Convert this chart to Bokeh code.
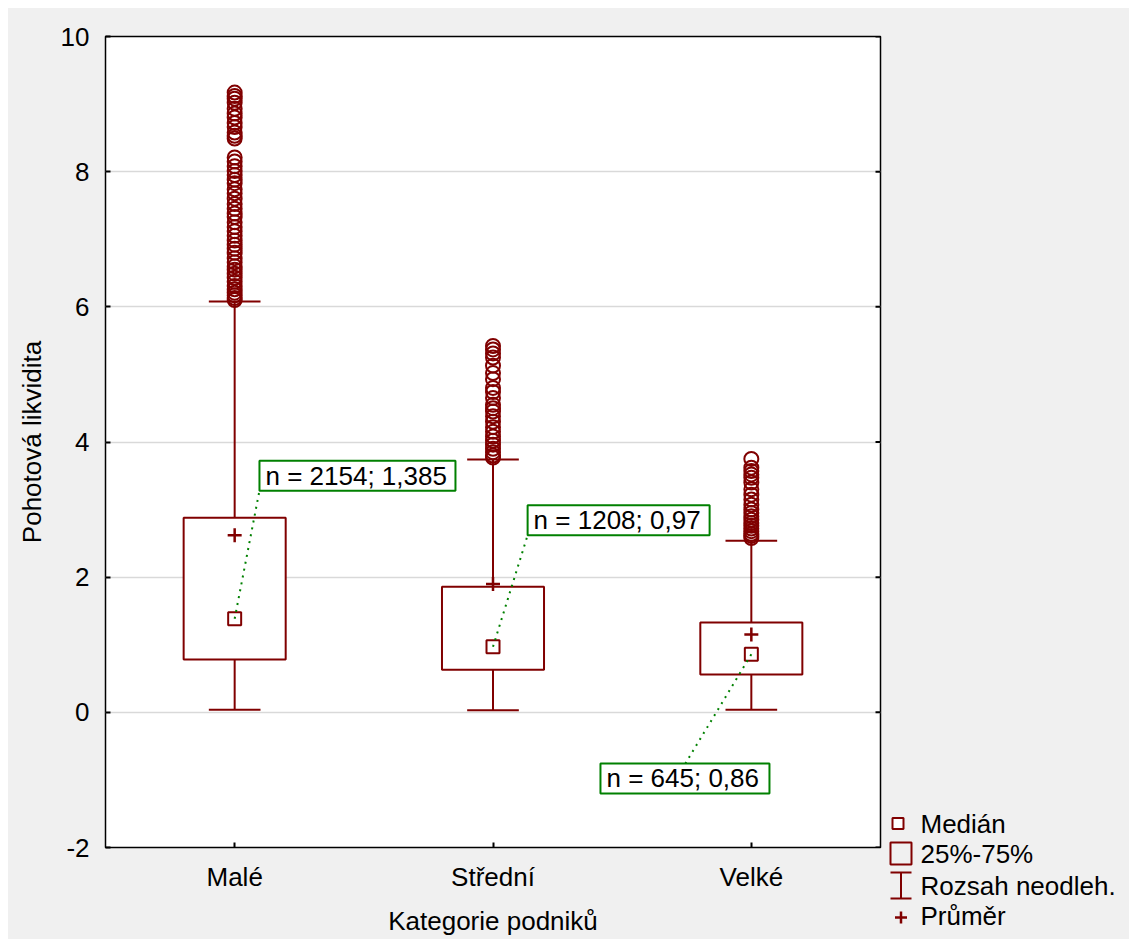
from bokeh.plotting import figure
from bokeh.layouts import row
from bokeh.models import Range1d, FixedTicker, Label
from bokeh.embed import file_html
from bokeh.resources import INLINE
from bokeh.core.properties import value

# ---------------- data ----------------
categories = ["Malé", "Střední", "Velké"]
counts = [2154, 1208, 645]
medians = [1.385, 0.97, 0.86]
q1 = [0.78, 0.63, 0.56]
q3 = [2.88, 1.86, 1.33]
means = [2.62, 1.90, 1.15]
whisker_low = [0.04, 0.03, 0.04]
whisker_high = [6.08, 3.74, 2.54]

outliers_male = [9.17, 9.12, 9.08, 9.02, 8.93, 8.86, 8.80, 8.72, 8.66, 8.58, 8.53, 8.49,
                 8.21, 8.15, 8.08, 8.01, 7.95, 7.88, 7.83, 7.74, 7.68, 7.60, 7.52, 7.45,
                 7.38, 7.33, 7.25, 7.18, 7.12, 7.05, 6.98, 6.92, 6.86, 6.80, 6.72, 6.66,
                 6.60, 6.55, 6.49, 6.43, 6.37, 6.31, 6.26, 6.21, 6.17, 6.13, 6.10]
outliers_stredni = [5.42, 5.37, 5.31, 5.25, 5.13, 5.02, 4.93, 4.80, 4.74, 4.65, 4.55, 4.50,
                    4.45, 4.38, 4.30, 4.22, 4.15, 4.08, 4.02, 3.96, 3.90, 3.85, 3.80, 3.77]
outliers_velke = [3.75, 3.62, 3.57, 3.52, 3.47, 3.40, 3.30, 3.22, 3.15, 3.07, 3.00, 2.95,
                  2.90, 2.85, 2.80, 2.76, 2.72, 2.68, 2.64, 2.61, 2.58]
outliers = [outliers_male, outliers_stredni, outliers_velke]

y_ticks = [-2, 0, 2, 4, 6, 8, 10]
legend_labels = ["Medián", "25%-75%", "Rozsah neodleh.", "Průměr"]

# ---------------- styling / layout ----------------
MAROON = "#800000"
GREEN = "#008000"
GRAY = "#f0f0f0"
FONT = "Liberation Sans"
FS = "26px"

FRAME_L, FRAME_T = 97, 28
FRAME_W, FRAME_H = 775, 811
FIG_H = 931
MAIN_W = FRAME_L + FRAME_W + 8
LEG_W = 1121 - MAIN_W
X0, X1 = 0.5, 3.5
Y0, Y1 = -2, 10
PXX = FRAME_W / (X1 - X0)
PXY = FRAME_H / (Y1 - Y0)

xs = [i + 1 for i in range(len(categories))]
box_half = 0.1975
cap_half = 0.10

p = figure(width=MAIN_W, height=FIG_H, x_range=Range1d(X0, X1), y_range=Range1d(Y0, Y1),
           output_backend="svg", toolbar_location=None,
           min_border_left=FRAME_L, min_border_right=8, min_border_top=FRAME_T,
           min_border_bottom=FIG_H - FRAME_T - FRAME_H,
           background_fill_color="white", border_fill_color=GRAY,
           outline_line_color="black", outline_line_width=1.5)

# axes
p.xaxis.ticker = FixedTicker(ticks=xs)
p.xaxis.major_label_overrides = {x: c for x, c in zip(xs, categories)}
p.xaxis.axis_label = "Kategorie podniků"
p.yaxis.ticker = FixedTicker(ticks=y_ticks)
p.yaxis.major_label_overrides = {t: str(t) for t in y_ticks}
p.yaxis.axis_label = "Pohotová likvidita"
for ax in (p.xaxis[0], p.yaxis[0]):
    ax.axis_line_color = None
    ax.major_tick_in = 5
    ax.major_tick_out = 0
    ax.major_tick_line_width = 2
    ax.major_tick_line_color = "black"
    ax.minor_tick_line_color = None
    ax.major_label_text_font = FONT
    ax.major_label_text_font_size = FS
    ax.major_label_text_color = "black"
    ax.axis_label_text_font = FONT
    ax.axis_label_text_font_size = FS
    ax.axis_label_text_font_style = "normal"
    ax.axis_label_text_color = "black"
p.xaxis.major_label_standoff = 14
p.xaxis.axis_label_standoff = 11
p.yaxis.major_label_standoff = 16
p.yaxis.axis_label_standoff = 11

# inward ticks on the right edge of the frame
tick_len = 5 / PXX
p.segment(x0=[X1 - tick_len] * len(y_ticks), y0=y_ticks, x1=[X1] * len(y_ticks), y1=y_ticks,
          line_color="black", line_width=2)

p.xgrid.visible = False
p.ygrid.ticker = FixedTicker(ticks=y_ticks)
p.ygrid.grid_line_color = "#d9d9d9"
p.ygrid.grid_line_width = 1.5

# ---------------- box plots ----------------
p.segment(x0=xs, y0=q3, x1=xs, y1=whisker_high, line_color=MAROON, line_width=2)
p.segment(x0=xs, y0=q1, x1=xs, y1=whisker_low, line_color=MAROON, line_width=2)
for x, o in zip(xs, outliers):
    p.scatter(x=[x] * len(o), y=o, marker="circle", size=14, fill_color=None,
              line_color=MAROON, line_width=2)
p.segment(x0=[x - cap_half for x in xs], y0=whisker_high, x1=[x + cap_half for x in xs],
          y1=whisker_high, line_color=MAROON, line_width=2)
p.segment(x0=[x - cap_half for x in xs], y0=whisker_low, x1=[x + cap_half for x in xs],
          y1=whisker_low, line_color=MAROON, line_width=2)
p.quad(left=[x - box_half for x in xs], right=[x + box_half for x in xs], bottom=q1, top=q3,
       fill_color="white", line_color=MAROON, line_width=2)
p.scatter(x=xs, y=means, marker="cross", size=14, line_color=MAROON, line_width=2.5)
p.scatter(x=xs, y=medians, marker="square", size=13, fill_color="white",
          line_color=MAROON, line_width=2)

# ---------------- n / median annotations ----------------
lab_dx = [0.096, 0.134, -0.584]          # box left, relative to category
lab_bottom = [3.28, 2.62, -1.20]
lab_w_px = [196, 182, 169]
lab_h = 30 / PXY
line_end_dx = [0.096, 0.134, -0.255]
line_end_y = [3.28, 2.62, -1.20 + 30 / PXY]

p.segment(x0=xs, y0=medians, x1=[x + d for x, d in zip(xs, line_end_dx)], y1=line_end_y,
          line_color=GREEN, line_width=2, line_dash="2 5")
p.quad(left=[x + d for x, d in zip(xs, lab_dx)],
       right=[x + d + w / PXX for x, d, w in zip(xs, lab_dx, lab_w_px)],
       bottom=lab_bottom, top=[b + lab_h for b in lab_bottom],
       fill_color="white", line_color=GREEN, line_width=2)
for x, d, b, n, m in zip(xs, lab_dx, lab_bottom, counts, medians):
    p.add_layout(Label(x=x + d + 6 / PXX, y=b + lab_h / 2,
                       text=f"n = {n}; {str(m).replace('.', ',')}",
                       text_font=FONT, text_font_size=FS, text_baseline="middle",
                       text_color="black"))

# ---------------- legend panel (pixel coordinates, y downwards) ----------------
leg = figure(width=LEG_W, height=FIG_H, x_range=Range1d(0, LEG_W), y_range=Range1d(FIG_H, 0),
             output_backend="svg", toolbar_location=None, x_axis_type=None, y_axis_type=None,
             min_border=0, outline_line_color=None, frame_align=False,
             background_fill_color=GRAY, border_fill_color=GRAY)
leg.xgrid.visible = False
leg.ygrid.visible = False

gx = 12.5                     # glyph centre column
row_y = [815, 845, 877, 907]  # item centres
leg.scatter(x=[gx - 3], y=[row_y[0]], marker="square", size=11, fill_color="white",
            line_color=MAROON, line_width=2)
leg.quad(left=[gx - 10.5], right=[gx + 10.5], top=[row_y[1] - 11], bottom=[row_y[1] + 11],
         fill_color=None, line_color=MAROON, line_width=2)
leg.segment(x0=[gx, gx - 10.5, gx - 10.5], y0=[row_y[2] - 13, row_y[2] - 13, row_y[2] + 13],
            x1=[gx, gx + 10.5, gx + 10.5], y1=[row_y[2] + 13, row_y[2] - 13, row_y[2] + 13],
            line_color=MAROON, line_width=2)
leg.scatter(x=[gx], y=[row_y[3] + 2], marker="cross", size=12, line_color=MAROON,
            line_width=2.5)
leg.text(x=[32] * 4, y=row_y, text=legend_labels, text_font=value(FONT),
         text_font_size=value(FS), text_baseline="middle", text_color="black")

p.frame_align = False
layout = row(p, leg, spacing=0, margin=(8, 0, 0, 8), styles={"background-color": GRAY})
open("out.html", "w").write(file_html(layout, INLINE))
